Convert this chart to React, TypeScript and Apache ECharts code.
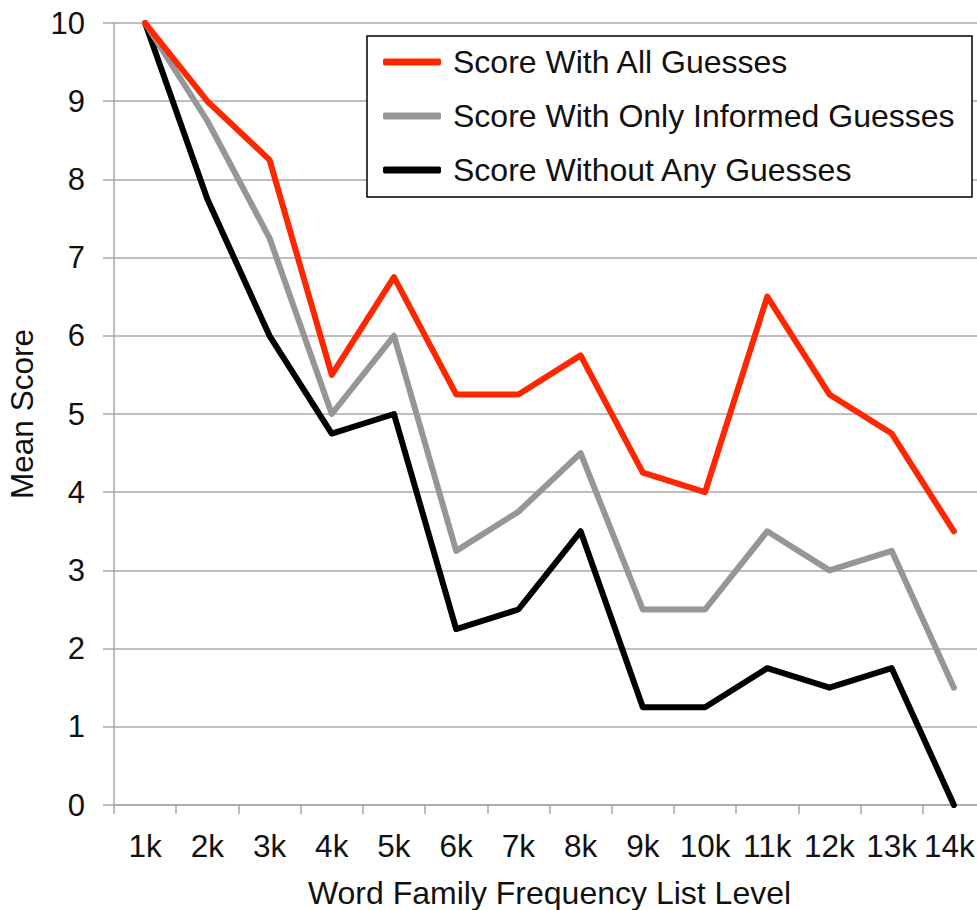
import React, { useEffect, useRef } from "react";
import * as echarts from "echarts";

const categories = ["1k", "2k", "3k", "4k", "5k", "6k", "7k", "8k", "9k", "10k", "11k", "12k", "13k", "14k"];
const allGuesses = [10, 9, 8.25, 5.5, 6.75, 5.25, 5.25, 5.75, 4.25, 4, 6.5, 5.25, 4.75, 3.5];
const informedGuesses = [10, 8.75, 7.25, 5, 6, 3.25, 3.75, 4.5, 2.5, 2.5, 3.5, 3, 3.25, 1.5];
const noGuesses = [10, 7.75, 6, 4.75, 5, 2.25, 2.5, 3.5, 1.25, 1.25, 1.75, 1.5, 1.75, 0];
const seriesNames = ["Score With All Guesses", "Score With Only Informed Guesses", "Score Without Any Guesses"];
const seriesColors = ["#ff2600", "#969696", "#000000"];

const FONT = "'Liberation Sans', Arial, Helvetica, sans-serif";
const TEXT = "#111111";
const GRID = "#a9a9a9";

export default function App() {
  const ref = useRef<HTMLDivElement>(null);
  useEffect(() => {
    if (!ref.current) return;
    const chart = echarts.init(ref.current, undefined, { renderer: "svg" });
    const dataSets = [allGuesses, informedGuesses, noGuesses];
    const lastCat = categories[categories.length - 1];
    chart.setOption({
      animation: false,
      backgroundColor: "#ffffff",
      textStyle: { fontFamily: FONT },
      grid: {
        left: 114,
        top: 23,
        width: 871,
        height: 782,
        containLabel: false,
        outerBoundsMode: "none",
      },
      xAxis: {
        type: "category",
        data: categories,
        boundaryGap: true,
        name: "Word Family Frequency List Level",
        nameLocation: "middle",
        nameGap: 72,
        nameTextStyle: { fontSize: 32, color: TEXT, fontFamily: FONT },
        axisLine: { show: true, lineStyle: { color: GRID, width: 1.5 } },
        axisTick: { show: true, length: 9, lineStyle: { color: GRID, width: 1.5 } },
        axisLabel: {
          interval: 0,
          fontSize: 31.5,
          color: TEXT,
          margin: 25,
          fontFamily: FONT,
          formatter: (v: string) => (v === lastCat ? "{last|" + v + "}" : v),
          rich: {
            last: { fontSize: 31.5, color: TEXT, fontFamily: FONT, padding: [0, 9, 0, 0] },
          },
        },
        splitLine: { show: false },
      },
      yAxis: {
        type: "value",
        min: 0,
        max: 10,
        interval: 1,
        name: "Mean Score",
        nameLocation: "middle",
        nameGap: 76,
        nameTextStyle: { fontSize: 31.5, color: TEXT, fontFamily: FONT },
        axisLine: { show: true, lineStyle: { color: GRID, width: 1.5 } },
        axisTick: { show: true, length: 11, lineStyle: { color: GRID, width: 1.5 } },
        axisLabel: { fontSize: 31, color: TEXT, margin: 29, fontFamily: FONT },
        splitLine: { show: true, lineStyle: { color: GRID, width: 1.5 } },
      },
      graphic: [
        {
          type: "rect",
          z: 3,
          shape: { x: 367, y: 36, width: 605, height: 161 },
          style: { fill: "#ffffff", stroke: "#000000", lineWidth: 1.5 },
        },
      ],
      legend: {
        orient: "vertical",
        left: 383,
        top: 46,
        padding: 0,
        itemWidth: 58,
        itemHeight: 7,
        itemGap: 22,
        icon: "roundRect",
        z: 10,
        data: seriesNames,
        textStyle: { fontSize: 32, color: TEXT, fontFamily: FONT, padding: [0, 0, 0, 7] },
      },
      series: dataSets.map((d, i) => ({
        name: seriesNames[i],
        type: "line",
        data: d,
        symbol: "none",
        color: seriesColors[i],
        z: 5 - i,
        lineStyle: { color: seriesColors[i], width: 6, join: "round", cap: "round" },
      })),
    });
    return () => chart.dispose();
  }, []);
  return (
    <div
      ref={ref}
      style={{ position: "fixed", left: 0, top: 0, width: 977, height: 910, background: "#fff" }}
    />
  );
}
